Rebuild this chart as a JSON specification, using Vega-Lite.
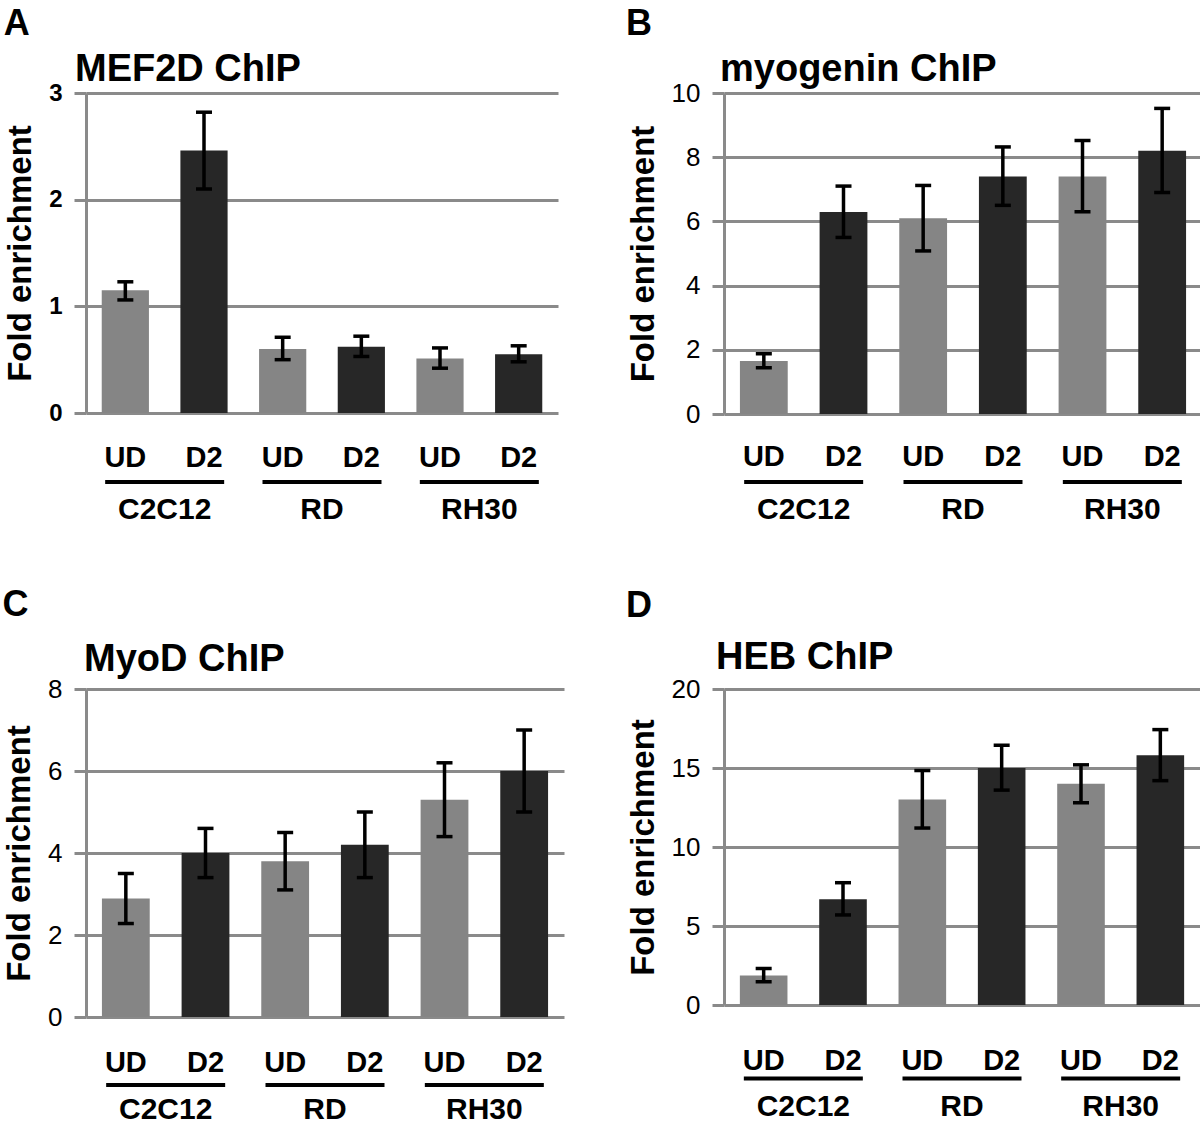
{
  "$schema": "https://vega.github.io/schema/vega-lite/v6.json",
  "background": "white",
  "padding": {"left": 2, "top": 6, "right": 0, "bottom": 0},
  "config": {
    "font": "Liberation Sans",
    "view": {"stroke": null},
    "axisY": {"grid": true, "gridColor": "#8a8a8a", "gridWidth": 3, "domainColor": "#8a8a8a", "domainWidth": 3, "ticks": true, "tickColor": "#8a8a8a", "tickWidth": 3, "tickSize": 12, "labelPadding": 12, "labelColor": "black", "labelFontSize": 26, "labelFlush": false, "titleFontSize": 33, "titleFontWeight": "bold", "titleColor": "black", "titlePadding": 11},
    "axisX": {"grid": false, "domain": false, "ticks": false, "tickSize": 0, "labelAngle": 0, "labelColor": "black", "labelFontWeight": "bold", "labelFontSize": 29}
  },
  "datasets": {
    "A": [
      {"cell": "C2C12 UD", "group": "C2C12", "cond": "UD", "value": 1.15, "lo": 1.06, "hi": 1.23},
      {"cell": "C2C12 D2", "group": "C2C12", "cond": "D2", "value": 2.46, "lo": 2.10, "hi": 2.82},
      {"cell": "RD UD", "group": "RD", "cond": "UD", "value": 0.60, "lo": 0.50, "hi": 0.71},
      {"cell": "RD D2", "group": "RD", "cond": "D2", "value": 0.62, "lo": 0.53, "hi": 0.72},
      {"cell": "RH30 UD", "group": "RH30", "cond": "UD", "value": 0.51, "lo": 0.42, "hi": 0.61},
      {"cell": "RH30 D2", "group": "RH30", "cond": "D2", "value": 0.55, "lo": 0.48, "hi": 0.63}
    ],
    "B": [
      {"cell": "C2C12 UD", "group": "C2C12", "cond": "UD", "value": 1.65, "lo": 1.44, "hi": 1.88},
      {"cell": "C2C12 D2", "group": "C2C12", "cond": "D2", "value": 6.29, "lo": 5.5, "hi": 7.1},
      {"cell": "RD UD", "group": "RD", "cond": "UD", "value": 6.1, "lo": 5.08, "hi": 7.12},
      {"cell": "RD D2", "group": "RD", "cond": "D2", "value": 7.4, "lo": 6.5, "hi": 8.32},
      {"cell": "RH30 UD", "group": "RH30", "cond": "UD", "value": 7.4, "lo": 6.3, "hi": 8.52},
      {"cell": "RH30 D2", "group": "RH30", "cond": "D2", "value": 8.2, "lo": 6.9, "hi": 9.52}
    ],
    "C": [
      {"cell": "C2C12 UD", "group": "C2C12", "cond": "UD", "value": 2.89, "lo": 2.28, "hi": 3.5},
      {"cell": "C2C12 D2", "group": "C2C12", "cond": "D2", "value": 4.0, "lo": 3.4, "hi": 4.6},
      {"cell": "RD UD", "group": "RD", "cond": "UD", "value": 3.8, "lo": 3.1, "hi": 4.5},
      {"cell": "RD D2", "group": "RD", "cond": "D2", "value": 4.2, "lo": 3.4, "hi": 5.0},
      {"cell": "RH30 UD", "group": "RH30", "cond": "UD", "value": 5.3, "lo": 4.4, "hi": 6.2},
      {"cell": "RH30 D2", "group": "RH30", "cond": "D2", "value": 6.0, "lo": 5.0, "hi": 7.0}
    ],
    "D": [
      {"cell": "C2C12 UD", "group": "C2C12", "cond": "UD", "value": 1.87, "lo": 1.47, "hi": 2.31},
      {"cell": "C2C12 D2", "group": "C2C12", "cond": "D2", "value": 6.7, "lo": 5.7, "hi": 7.74},
      {"cell": "RD UD", "group": "RD", "cond": "UD", "value": 13.0, "lo": 11.2, "hi": 14.84},
      {"cell": "RD D2", "group": "RD", "cond": "D2", "value": 15.0, "lo": 13.6, "hi": 16.44},
      {"cell": "RH30 UD", "group": "RH30", "cond": "UD", "value": 14.0, "lo": 12.8, "hi": 15.2},
      {"cell": "RH30 D2", "group": "RH30", "cond": "D2", "value": 15.8, "lo": 14.2, "hi": 17.43}
    ],
    "groups": [{"group": "C2C12"}, {"group": "RD"}, {"group": "RH30"}]
  },
  "concat": [
    {
      "title": {"text": "A", "anchor": "start", "frame": "bounds", "fontSize": 36, "fontWeight": "bold", "color": "black", "baseline": "alphabetic", "offset": -20, "dx": -1},
      "vconcat": [{
        "width": 472, "height": 320,
        "title": {"text": "MEF2D ChIP", "anchor": "start", "frame": "group", "fontSize": 38, "fontWeight": "bold", "color": "black", "baseline": "alphabetic", "offset": -38, "dx": -11},
        "data": {"name": "A"},
        "layer": [
          {"layer": [
            {"mark": {"type": "bar"},
             "encoding": {
               "x": {"field": "cell", "type": "nominal", "title": null, "scale": {"domain": ["C2C12 UD", "C2C12 D2", "RD UD", "RD D2", "RH30 UD", "RH30 D2"], "paddingInner": 0.4, "paddingOuter": 0.2}, "axis": {"labelExpr": "split(datum.label, ' ')[1]", "labelPadding": 30}},
               "y": {"field": "value", "type": "quantitative", "title": "Fold enrichment", "scale": {"domain": [0, 3]}, "axis": {"values": [0, 1, 2, 3], "format": "d", "labelFontSize": 24, "labelFontWeight": "bold"}},
               "color": {"field": "cond", "type": "nominal", "scale": {"domain": ["UD", "D2"], "range": ["#858585", "#272727"]}, "legend": null}}},
            {"mark": {"type": "rule", "color": "black", "strokeWidth": 3.5},
             "encoding": {"x": {"field": "cell", "type": "nominal", "title": null}, "y": {"field": "lo", "type": "quantitative", "title": "Fold enrichment"}, "y2": {"field": "hi"}}},
            {"mark": {"type": "tick", "color": "black", "size": 16, "thickness": 3.5, "opacity": 1},
             "encoding": {"x": {"field": "cell", "type": "nominal", "title": null}, "y": {"field": "lo", "type": "quantitative", "title": "Fold enrichment"}}},
            {"mark": {"type": "tick", "color": "black", "size": 16, "thickness": 3.5, "opacity": 1},
             "encoding": {"x": {"field": "cell", "type": "nominal", "title": null}, "y": {"field": "hi", "type": "quantitative", "title": "Fold enrichment"}}}
          ]},
          {"data": {"name": "groups"},
           "mark": {"type": "tick", "color": "black", "size": 119, "thickness": 4, "opacity": 1},
           "encoding": {
             "x": {"field": "group", "type": "nominal", "title": null, "scale": {"domain": ["C2C12", "RD", "RH30"], "paddingInner": 0, "paddingOuter": 0}, "axis": {"orient": "bottom", "labelPadding": 81, "labelFontSize": 30}},
             "y": {"datum": -0.647, "type": "quantitative", "title": "Fold enrichment"}}}
        ],
        "resolve": {"scale": {"x": "independent"}, "axis": {"x": "independent"}}
      }]
    },
    {
      "title": {"text": "B", "anchor": "start", "frame": "bounds", "fontSize": 36, "fontWeight": "bold", "color": "black", "baseline": "alphabetic", "offset": -20, "dx": -1},
      "vconcat": [{
        "width": 478, "height": 321,
        "title": {"text": "myogenin ChIP", "anchor": "start", "frame": "group", "fontSize": 38, "fontWeight": "bold", "color": "black", "baseline": "alphabetic", "offset": -39, "dx": -4},
        "data": {"name": "B"},
        "layer": [
          {"layer": [
            {"mark": {"type": "bar"},
             "encoding": {
               "x": {"field": "cell", "type": "nominal", "title": null, "scale": {"domain": ["C2C12 UD", "C2C12 D2", "RD UD", "RD D2", "RH30 UD", "RH30 D2"], "paddingInner": 0.4, "paddingOuter": 0.2}, "axis": {"labelExpr": "split(datum.label, ' ')[1]", "labelPadding": 28}},
               "y": {"field": "value", "type": "quantitative", "title": "Fold enrichment", "scale": {"domain": [0, 10]}, "axis": {"values": [0, 2, 4, 6, 8, 10]}},
               "color": {"field": "cond", "type": "nominal", "scale": {"domain": ["UD", "D2"], "range": ["#858585", "#272727"]}, "legend": null}}},
            {"mark": {"type": "rule", "color": "black", "strokeWidth": 3.5},
             "encoding": {"x": {"field": "cell", "type": "nominal", "title": null}, "y": {"field": "lo", "type": "quantitative", "title": "Fold enrichment"}, "y2": {"field": "hi"}}},
            {"mark": {"type": "tick", "color": "black", "size": 16, "thickness": 3.5, "opacity": 1},
             "encoding": {"x": {"field": "cell", "type": "nominal", "title": null}, "y": {"field": "lo", "type": "quantitative", "title": "Fold enrichment"}}},
            {"mark": {"type": "tick", "color": "black", "size": 16, "thickness": 3.5, "opacity": 1},
             "encoding": {"x": {"field": "cell", "type": "nominal", "title": null}, "y": {"field": "hi", "type": "quantitative", "title": "Fold enrichment"}}}
          ]},
          {"data": {"name": "groups"},
           "mark": {"type": "tick", "color": "black", "size": 119, "thickness": 4, "opacity": 1},
           "encoding": {
             "x": {"field": "group", "type": "nominal", "title": null, "scale": {"domain": ["C2C12", "RD", "RH30"], "paddingInner": 0, "paddingOuter": 0}, "axis": {"orient": "bottom", "labelPadding": 80, "labelFontSize": 30}},
             "y": {"datum": -2.12, "type": "quantitative", "title": "Fold enrichment"}}}
        ],
        "resolve": {"scale": {"x": "independent"}, "axis": {"x": "independent"}}
      }]
    },
    {
      "title": {"text": "C", "anchor": "start", "frame": "bounds", "fontSize": 36, "fontWeight": "bold", "color": "black", "baseline": "alphabetic", "offset": -11, "dx": -1},
      "vconcat": [{
        "width": 478, "height": 328,
        "title": {"text": "MyoD ChIP", "anchor": "start", "frame": "group", "fontSize": 38, "fontWeight": "bold", "color": "black", "baseline": "alphabetic", "offset": -33, "dx": -2},
        "data": {"name": "C"},
        "layer": [
          {"layer": [
            {"mark": {"type": "bar"},
             "encoding": {
               "x": {"field": "cell", "type": "nominal", "title": null, "scale": {"domain": ["C2C12 UD", "C2C12 D2", "RD UD", "RD D2", "RH30 UD", "RH30 D2"], "paddingInner": 0.4, "paddingOuter": 0.2}, "axis": {"labelExpr": "split(datum.label, ' ')[1]", "labelPadding": 31}},
               "y": {"field": "value", "type": "quantitative", "title": "Fold enrichment", "scale": {"domain": [0, 8]}, "axis": {"values": [0, 2, 4, 6, 8]}},
               "color": {"field": "cond", "type": "nominal", "scale": {"domain": ["UD", "D2"], "range": ["#858585", "#272727"]}, "legend": null}}},
            {"mark": {"type": "rule", "color": "black", "strokeWidth": 3.5},
             "encoding": {"x": {"field": "cell", "type": "nominal", "title": null}, "y": {"field": "lo", "type": "quantitative", "title": "Fold enrichment"}, "y2": {"field": "hi"}}},
            {"mark": {"type": "tick", "color": "black", "size": 16, "thickness": 3.5, "opacity": 1},
             "encoding": {"x": {"field": "cell", "type": "nominal", "title": null}, "y": {"field": "lo", "type": "quantitative", "title": "Fold enrichment"}}},
            {"mark": {"type": "tick", "color": "black", "size": 16, "thickness": 3.5, "opacity": 1},
             "encoding": {"x": {"field": "cell", "type": "nominal", "title": null}, "y": {"field": "hi", "type": "quantitative", "title": "Fold enrichment"}}}
          ]},
          {"data": {"name": "groups"},
           "mark": {"type": "tick", "color": "black", "size": 119, "thickness": 4, "opacity": 1},
           "encoding": {
             "x": {"field": "group", "type": "nominal", "title": null, "scale": {"domain": ["C2C12", "RD", "RH30"], "paddingInner": 0, "paddingOuter": 0}, "axis": {"orient": "bottom", "labelPadding": 77, "labelFontSize": 30}},
             "y": {"datum": -1.66, "type": "quantitative", "title": "Fold enrichment"}}}
        ],
        "resolve": {"scale": {"x": "independent"}, "axis": {"x": "independent"}}
      }]
    },
    {
      "title": {"text": "D", "anchor": "start", "frame": "bounds", "fontSize": 36, "fontWeight": "bold", "color": "black", "baseline": "alphabetic", "offset": -14, "dx": -1},
      "vconcat": [{
        "width": 476, "height": 316,
        "title": {"text": "HEB ChIP", "anchor": "start", "frame": "group", "fontSize": 38, "fontWeight": "bold", "color": "black", "baseline": "alphabetic", "offset": -31, "dx": -8},
        "data": {"name": "D"},
        "layer": [
          {"layer": [
            {"mark": {"type": "bar"},
             "encoding": {
               "x": {"field": "cell", "type": "nominal", "title": null, "scale": {"domain": ["C2C12 UD", "C2C12 D2", "RD UD", "RD D2", "RH30 UD", "RH30 D2"], "paddingInner": 0.4, "paddingOuter": 0.2}, "axis": {"labelExpr": "split(datum.label, ' ')[1]", "labelPadding": 41}},
               "y": {"field": "value", "type": "quantitative", "title": "Fold enrichment", "scale": {"domain": [0, 20]}, "axis": {"values": [0, 5, 10, 15, 20]}},
               "color": {"field": "cond", "type": "nominal", "scale": {"domain": ["UD", "D2"], "range": ["#858585", "#272727"]}, "legend": null}}},
            {"mark": {"type": "rule", "color": "black", "strokeWidth": 3.5},
             "encoding": {"x": {"field": "cell", "type": "nominal", "title": null}, "y": {"field": "lo", "type": "quantitative", "title": "Fold enrichment"}, "y2": {"field": "hi"}}},
            {"mark": {"type": "tick", "color": "black", "size": 16, "thickness": 3.5, "opacity": 1},
             "encoding": {"x": {"field": "cell", "type": "nominal", "title": null}, "y": {"field": "lo", "type": "quantitative", "title": "Fold enrichment"}}},
            {"mark": {"type": "tick", "color": "black", "size": 16, "thickness": 3.5, "opacity": 1},
             "encoding": {"x": {"field": "cell", "type": "nominal", "title": null}, "y": {"field": "hi", "type": "quantitative", "title": "Fold enrichment"}}}
          ]},
          {"data": {"name": "groups"},
           "mark": {"type": "tick", "color": "black", "size": 119, "thickness": 4, "opacity": 1},
           "encoding": {
             "x": {"field": "group", "type": "nominal", "title": null, "scale": {"domain": ["C2C12", "RD", "RH30"], "paddingInner": 0, "paddingOuter": 0}, "axis": {"orient": "bottom", "labelPadding": 86, "labelFontSize": 30}},
             "y": {"datum": -4.65, "type": "quantitative", "title": "Fold enrichment"}}}
        ],
        "resolve": {"scale": {"x": "independent"}, "axis": {"x": "independent"}}
      }]
    }
  ],
  "columns": 2,
  "spacing": {"row": 63, "column": 62}
}
